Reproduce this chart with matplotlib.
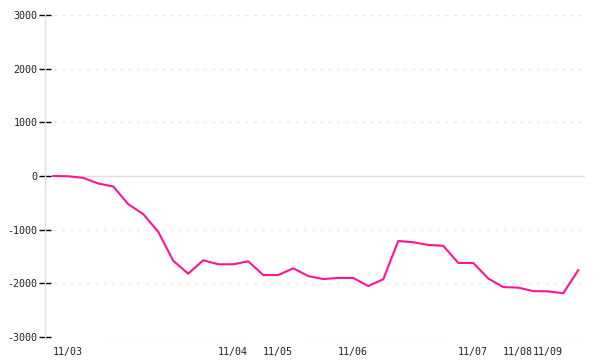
import matplotlib
matplotlib.use('Agg')
import matplotlib.pyplot as plt

# values, one per step
values = [0, -5, -35, -140, -195, -525, -710, -1040, -1580, -1820,
          -1570, -1645, -1645, -1590, -1845, -1845, -1720, -1865, -1920, -1900,
          -1900, -2050, -1925, -1210, -1235, -1285, -1300, -1620, -1620, -1910,
          -2070, -2080, -2145, -2150, -2185, -1755]
tick_pos = [0, 11, 14, 19, 27, 30, 32]
tick_labels = ['11/03', '11/04', '11/05', '11/06', '11/07', '11/08', '11/09']
y_ticks = [-3000, -2000, -1000, 0, 1000, 2000, 3000]

plt.rcParams['font.family'] = ['DejaVu Sans Mono']

fig = plt.figure(figsize=(6, 3.6), dpi=100)
ax = fig.add_axes([0.075, 0.0639, 0.9, 0.8944])

x = list(range(len(values)))
for t in y_ticks:
    if t == 0:
        ax.axhline(0, color='#dddddd', lw=1, zorder=1)
    else:
        ax.axhline(t, color='#e6e6e6', lw=1, ls=(0, (2, 4)), zorder=1)

ax.plot(x, values, color='#ff1493', lw=1.5, zorder=3)

ax.set_xlim(-0.55, len(values) - 1 + 0.45)
ax.set_ylim(-3000, 3000)

for side in ['top', 'right', 'bottom']:
    ax.spines[side].set_visible(False)
ax.spines['left'].set_color('#dddddd')
ax.spines['left'].set_linewidth(1)

ax.set_yticks(y_ticks)
ax.set_yticklabels([str(t) for t in y_ticks])
ax.tick_params(axis='y', direction='inout', length=9, width=1, color='black',
               labelsize=7.2, labelcolor='#222222', pad=1)

ax.set_xticks(tick_pos)
ax.set_xticklabels(tick_labels, ha='left')
ax.tick_params(axis='x', length=0, labelsize=7.2, labelcolor='#222222', pad=7)

fig.savefig('out.png', dpi=100)
